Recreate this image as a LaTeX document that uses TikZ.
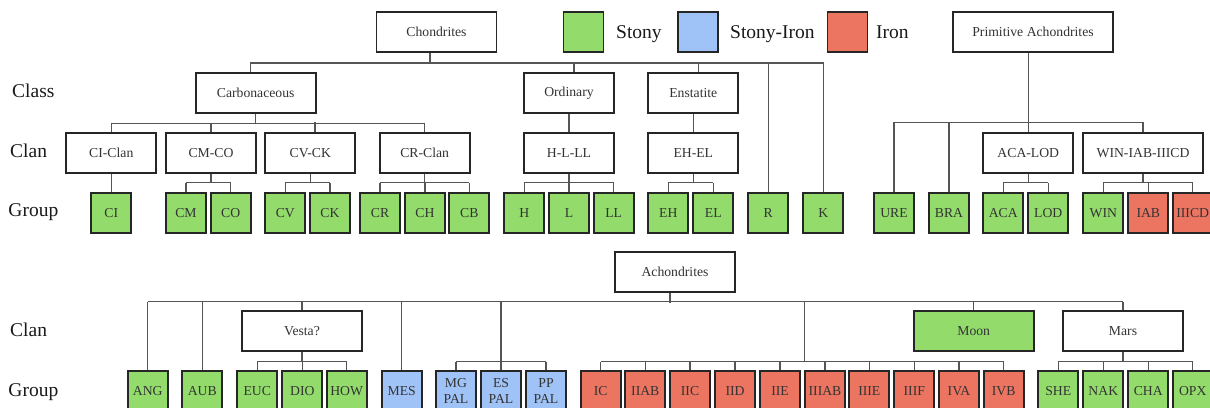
\documentclass[tikz,border=0pt]{standalone}
\usepackage{fontspec}
\setmainfont{Liberation Serif}
\definecolor{stony}{HTML}{93DC6C}
\definecolor{stiron}{HTML}{A0C3F7}
\definecolor{ironc}{HTML}{EC7562}
\definecolor{conn}{HTML}{555555}
\definecolor{txt}{HTML}{333333}
\newcommand\myfork[5]{% parent, bus y, first, last, all children
  \draw[link] (#3.north |- 0,#2) -- (#4.north |- 0,#2);
  \draw[link] (#1.south) -- (#1.south |- 0,#2);
  \foreach \c in {#5} {\draw[link] (\c.north) -- (\c.north |- 0,#2);}
}
\begin{document}
\begin{tikzpicture}[x=1pt,y=-1pt,
  box/.style={draw=black!85, line width=1.9pt, fill=white, minimum width=120pt,
    minimum height=40pt, inner sep=0pt, text=txt, font=\fontsize{13.7}{15}\selectfont},
  cbox/.style={box, minimum width=90pt},
  gbox/.style={box, minimum width=40pt, fill=stony},
  sbox/.style={gbox, fill=stiron, align=center, font=\fontsize{13.7}{16}\selectfont},
  ibox/.style={gbox, fill=ironc},
  lab/.style={anchor=base west, inner sep=0pt, text=black!90, font=\fontsize{19.5}{22}\selectfont},
  link/.style={draw=conn, line width=1.2pt}]
\useasboundingbox (0,0) rectangle (1210,407);
\clip (0,0) rectangle (1210,407);

% ---------- legend ----------
\node[gbox] (lg) at (583.5,32) {};
\node[lab] (lgt) at (616,38.5) {Stony};
\node[gbox, fill=stiron] (lb) at (698,32) {};
\node[lab] (lbt) at (730,38.5) {Stony-Iron};
\node[ibox] (lr) at (847.5,32) {};
\node[lab] (lrt) at (876,38.5) {Iron};

% ---------- row labels ----------
\node[lab] (lclass) at (12,97.3) {Class};
\node[lab] (lclan) at (10,157.3) {Clan};
\node[lab] (lgroup) at (8.3,216.7) {Group};
\node[lab] (lclan2) at (10,336.7) {Clan};
\node[lab] (lgroup2) at (8.3,396.7) {Group};

% ---------- top tree ----------
\node[box] (chond) at (436.5,32) {Chondrites};
\node[box, minimum width=160pt] (prim) at (1033,32) {Primitive Achondrites};

\node[box] (carb) at (255.7,93.3) {Carbonaceous};
\node[cbox] (ord) at (569,93.3) {Ordinary};
\node[cbox] (ens) at (693.3,93.3) {Enstatite};

\node[cbox] (cicl) at (111.3,153.3) {CI-Clan};
\node[cbox] (cmco) at (211,153.3) {CM-CO};
\node[cbox] (cvck) at (310.3,153.3) {CV-CK};
\node[cbox] (crcl) at (424.7,153.3) {CR-Clan};
\node[cbox] (hlll) at (569,153.3) {H-L-LL};
\node[cbox] (ehel) at (693.3,153.3) {EH-EL};
\node[cbox] (acalod) at (1028.3,153.3) {ACA-LOD};
\node[box] (winc) at (1143,153.3) {WIN-IAB-IIICD};

\foreach \n/\x/\t in {ci/111.3/CI, cm/186/CM, co/230.7/CO, cv/285.3/CV, ck/330/CK,
  cr/380/CR, ch/425/CH, cb/469.3/CB, h/524.3/H, l/569/L, ll/613.7/LL,
  eh/668.3/EH, el/713.3/EL, r/768.3/R, k/823.3/K, ure/894/URE, bra/949/BRA,
  aca/1003.3/ACA, lod/1048.3/LOD, win/1103.3/WIN}
  \node[gbox] (\n) at (\x,212.7) {\t};
\node[ibox] (iab) at (1148.3,212.7) {IAB};
\node[ibox] (iiicd) at (1192.7,212.7) {IIICD};

% ---------- bottom tree ----------
\node[box] (achon) at (675,271.7) {Achondrites};
\node[box] (vesta) at (302,331.3) {Vesta?};
\node[box, fill=stony] (moon) at (973.7,331.3) {Moon};
\node[box] (mars) at (1123,331.3) {Mars};

\foreach \n/\x/\t in {ang/147.7/ANG, aub/202.3/AUB, euc/257.3/EUC, dio/302.3/DIO,
  how/346.7/HOW, she/1058.3/SHE, nak/1103.3/NAK, cha/1148.3/CHA, opx/1192.7/OPX}
  \node[gbox] (\n) at (\x,391) {\t};
\node[sbox] (mes) at (401.7,391) {MES};
\node[sbox] (mgpal) at (456,391) {MG\\PAL};
\node[sbox] (espal) at (501,391) {ES\\PAL};
\node[sbox] (pppal) at (546,391) {PP\\PAL};
\foreach \n/\x/\t in {ic/600.7/IC, iiab/645.3/IIAB, iic/690/IIC, iid/735/IID,
  iie/780/IIE, iiiab/825/IIIAB, iiie/869.3/IIIE, iiif/914.3/IIIF,
  iva/959/IVA, ivb/1003.7/IVB}
  \node[ibox] (\n) at (\x,391) {\t};
\coordinate (ironj) at (804.3,361.7);

% ---------- connectors: top ----------
\draw[link] ([xshift=-5pt]carb.north) |- (k.north |- 0,63) -- (k.north);
\draw[link] ([xshift=-6.5pt]chond.south) -- ++(0,11);
\draw[link] ([xshift=5pt]ord.north) -- ++(0,-10.3);
\draw[link] ([xshift=5pt]ens.north) -- ++(0,-10.3);
\draw[link] (r.north) -- (r.north |- 0,63);

\draw[link] (cicl.north |- 0,123.3) -- (crcl.north |- 0,123.3);
\draw[link] (carb.south) -- (carb.south |- 0,123.3);
\foreach \c in {cicl,cmco,crcl} {\draw[link] (\c.north) -- (\c.north |- 0,123.3);}
\draw[link] ([xshift=4.7pt]cvck.north) -- ++(0,-10);

\draw[link] (ord) -- (hlll);
\draw[link] (ens) -- (ehel);
\draw[link] (cicl) -- (ci);
\myfork{cmco}{182.7}{cm}{co}{cm,co}
\myfork{cvck}{182.7}{cv}{ck}{cv,ck}
\myfork{crcl}{182.7}{cr}{cb}{cr,ch,cb}
\myfork{hlll}{182.7}{h}{ll}{h,l,ll}
\myfork{ehel}{182.7}{eh}{el}{eh,el}

\draw[link] (ure.north |- 0,122.3) -- (winc.north |- 0,122.3);
\draw[link] ([xshift=-4.7pt]prim.south) -- (acalod.north);
\foreach \c in {ure,bra,winc} {\draw[link] (\c.north) -- (\c.north |- 0,122.3);}
\myfork{acalod}{182.7}{aca}{lod}{aca,lod}
\myfork{winc}{182.7}{win}{iiicd}{win,iab,iiicd}

% ---------- connectors: bottom ----------
\draw[link] (ang.north |- 0,301.7) -- (mars.north |- 0,301.7);
\draw[link] ([xshift=-5pt]achon.south) -- ++(0,10);
\foreach \c in {ang,aub,vesta,mes,espal,moon,mars} {\draw[link] (\c.north) -- (\c.north |- 0,301.7);}
\draw[link] (ironj) -- (ironj |- 0,301.7);
\myfork{vesta}{361.7}{euc}{how}{euc,dio,how}
\draw[link] (mgpal.north |- 0,361.7) -- (pppal.north |- 0,361.7);
\foreach \c in {mgpal,pppal} {\draw[link] (\c.north) -- (\c.north |- 0,361.7);}
\draw[link] (ic.north |- 0,361.7) -- (ivb.north |- 0,361.7);
\foreach \c in {ic,iiab,iic,iid,iie,iiiab,iiie,iiif,iva,ivb} {\draw[link] (\c.north) -- (\c.north |- 0,361.7);}
\myfork{mars}{361.7}{she}{opx}{she,nak,cha,opx}
\end{tikzpicture}
\end{document}
